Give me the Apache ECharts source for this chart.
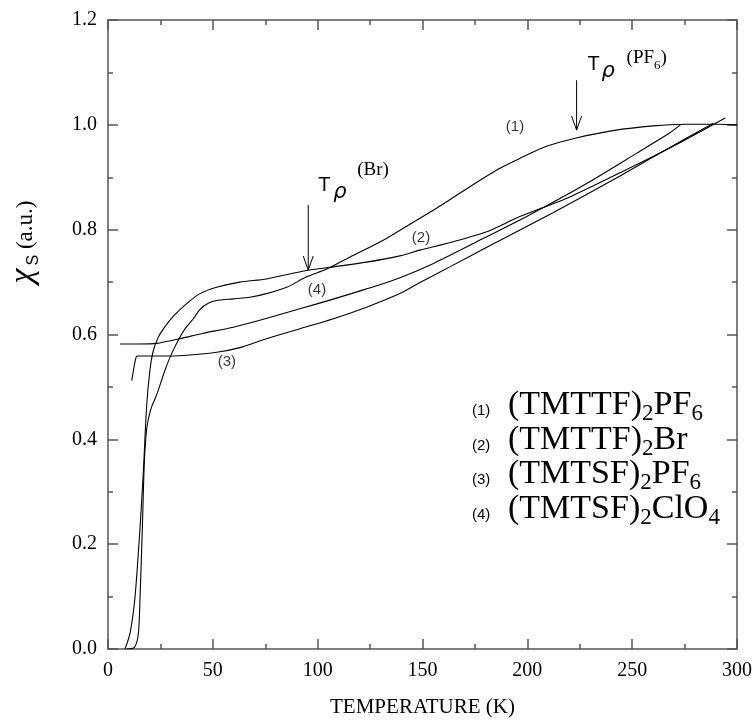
<!DOCTYPE html>
<html><head><meta charset="utf-8">
<script src="https://cdn.jsdelivr.net/npm/echarts@6/dist/echarts.min.js"></script>
<style>html,body{margin:0;padding:0;background:#fff}#c{width:755px;height:721px}</style>
</head><body><div id="c"></div>
<script>
// ---------- data ----------
const xTicks = [0, 50, 100, 150, 200, 250, 300];
const yTicks = [0, 0.2, 0.4, 0.6, 0.8, 1.0, 1.2];

// (1) (TMTTF)2PF6
const t1 = [8.9, 12.6, 14.5, 15.3, 16.4, 17.3, 18.4, 19.6, 20.8, 22.5, 24, 27, 30.4, 35, 37.5, 40.7, 43.9, 48, 51.8, 59.8, 67.7, 75.6, 85.2, 94.7, 104.3, 115.5, 131.3, 147.2, 156.7, 163, 172.6, 186.9, 196.4, 209.1, 223.4, 240.9, 260, 275.7, 291.6, 300];
const v1 = [0, 0.003, 0.03, 0.10, 0.233, 0.354, 0.418, 0.445, 0.462, 0.478, 0.494, 0.53, 0.564, 0.600, 0.615, 0.630, 0.648, 0.660, 0.665, 0.668, 0.671, 0.678, 0.690, 0.710, 0.725, 0.748, 0.780, 0.818, 0.841, 0.857, 0.882, 0.917, 0.936, 0.959, 0.975, 0.989, 0.998, 1.001, 1.001, 1.0];
// (2) (TMTTF)2Br
const t2 = [8.1, 10.5, 12.9, 15.3, 16.9, 18.4, 20, 21.6, 24, 27, 31.2, 37.5, 43.9, 51.8, 62.9, 75.6, 94.7, 107.5, 123.3, 139.2, 148.8, 164.7, 180.6, 196.4, 220, 245, 270, 294.4];
const v2 = [0, 0.03, 0.10, 0.233, 0.341, 0.462, 0.532, 0.569, 0.595, 0.614, 0.635, 0.659, 0.678, 0.690, 0.700, 0.706, 0.722, 0.729, 0.738, 0.750, 0.761, 0.777, 0.796, 0.825, 0.862, 0.910, 0.960, 1.013];
// (3) (TMTSF)2PF6
const t3 = [11.3, 13.4, 14.5, 25, 35.9, 51.8, 62.9, 75.6, 91.5, 107.5, 123.3, 139.2, 148.8, 163, 180, 212, 244, 276, 288.7];
const v3 = [0.512, 0.557, 0.559, 0.559, 0.560, 0.566, 0.575, 0.592, 0.611, 0.630, 0.652, 0.678, 0.699, 0.729, 0.765, 0.832, 0.902, 0.975, 1.003];
// (4) (TMTSF)2ClO4
const t4 = [5.7, 15, 23.2, 34.3, 45, 59.8, 75, 91.5, 107, 123.3, 139, 155, 175, 201, 228.3, 252.2, 268, 273];
const v4 = [0.582, 0.582, 0.583, 0.592, 0.602, 0.614, 0.630, 0.649, 0.667, 0.687, 0.708, 0.735, 0.775, 0.828, 0.888, 0.946, 0.985, 1.0];

const curveLabels = ['(1)', '(2)', '(3)', '(4)'];
const curveLabelT = [194.1, 149.3, 56.7, 99.7];
const curveLabelV = [0.997, 0.784, 0.547, 0.685];

const arrowT = [95.5, 223.5];
const arrowFrom = [0.847, 1.085];
const arrowTo = [0.723, 0.990];
const annoT = 'T';
const annoRho = 'ρ';
const annoSup = [['(Br)'], ['(PF', '6', ')']];

const legendNums = ['(1)', '(2)', '(3)', '(4)'];
const legendFormulas = [
  [['(TMTTF)', 'm'], ['2', 's'], ['PF', 'm'], ['6', 's']],
  [['(TMTTF)', 'm'], ['2', 's'], ['Br', 'm']],
  [['(TMTSF)', 'm'], ['2', 's'], ['PF', 'm'], ['6', 's']],
  [['(TMTSF)', 'm'], ['2', 's'], ['ClO', 'm'], ['4', 's']]
];
const xName = 'TEMPERATURE (K)';
const yNameParts = ['χ', 'S', ' (a.u.)'];

// ---------- chart ----------
const chart = echarts.init(document.getElementById('c'), null, {renderer: 'canvas'});
const AX = '#555';
const SERIF = '"Liberation Serif", "Times New Roman", serif';
const SANS = '"Liberation Sans", Arial, sans-serif';

function axisCommon(showLabel) {
  return {
    type: 'value',
    axisLine: {show: true, onZero: false, lineStyle: {color: AX, width: 1.5}},
    axisTick: {show: true, inside: true, length: 10, lineStyle: {color: AX, width: 1.5}},
    minorTick: {show: true, splitNumber: 2, length: 5, lineStyle: {color: AX, width: 1.5}},
    splitLine: {show: false},
    minorSplitLine: {show: false},
    axisLabel: {show: showLabel, fontFamily: SERIF, fontSize: 20, color: '#000'}
  };
}
const xMain = Object.assign(axisCommon(true), {
  min: 0, max: 300, interval: 50, position: 'bottom',
  name: xName, nameLocation: 'middle', nameGap: 48,
  nameTextStyle: {fontFamily: SERIF, fontSize: 21, color: '#000'}
});
xMain.axisLabel.margin = 12;
xMain.axisLabel.formatter = v => (xTicks.indexOf(v) >= 0 ? String(v) : '');
const xTop = Object.assign(axisCommon(false), {min: 0, max: 300, interval: 50, position: 'top'});
const yMain = Object.assign(axisCommon(true), {min: 0, max: 1.2, interval: 0.2, position: 'left'});
yMain.axisLabel.margin = 11;
yMain.axisLabel.formatter = v => {
  const k = yTicks.findIndex(t => Math.abs(t - v) < 1e-9);
  return k >= 0 ? yTicks[k].toFixed(1) : '';
};
const yRight = Object.assign(axisCommon(false), {min: 0, max: 1.2, interval: 0.2, position: 'right'});

function lineSeries(ts, vs) {
  return {
    type: 'line', xAxisIndex: 0, yAxisIndex: 0,
    data: ts.map((t, i) => [t, vs[i]]),
    showSymbol: false, symbol: 'none', smooth: 0.25,
    lineStyle: {color: '#000', width: 1.1}, silent: true, z: 3
  };
}

const option = {
  animation: false,
  backgroundColor: '#fff',
  grid: {left: 108, right: 18, top: 20, bottom: 72, containLabel: false, outerBoundsMode: 'none'},
  xAxis: [xMain, xTop],
  yAxis: [yMain, yRight],
  series: [
    lineSeries(t1, v1), lineSeries(t2, v2), lineSeries(t3, v3), lineSeries(t4, v4),
    {
      type: 'custom', xAxisIndex: 0, yAxisIndex: 0, silent: true, clip: false,
      data: arrowT.map((t, i) => [t, arrowFrom[i], arrowTo[i]]),
      encode: {x: 0, y: [1, 2]},
      renderItem: (params, api) => {
        const p0 = api.coord([api.value(0), api.value(1)]);
        const p1 = api.coord([api.value(0), api.value(2)]);
        return {
          type: 'group', children: [
            {type: 'line', shape: {x1: p0[0], y1: p0[1], x2: p1[0], y2: p1[1]}, style: {stroke: '#000', lineWidth: 1}},
            {type: 'polyline', shape: {points: [[p1[0] - 5, p1[1] - 14], [p1[0], p1[1]], [p1[0] + 5, p1[1] - 14]]}, style: {stroke: '#000', lineWidth: 1, fill: null}}
          ]
        };
      }
    },
    {
      type: 'scatter', xAxisIndex: 0, yAxisIndex: 0, silent: true,
      symbolSize: 1, itemStyle: {color: 'rgba(0,0,0,0)'},
      data: curveLabels.map((n, i) => ({name: n, value: [curveLabelT[i], curveLabelV[i]]})),
      label: {show: true, position: 'inside', formatter: '{b}', fontFamily: SANS, fontSize: 15, color: '#000'}
    }
  ]
};
chart.setOption(option);

// ---------- multi-font texts ----------
const mctx = document.createElement('canvas').getContext('2d');
function fontStr(p) { return (p.italic ? 'italic ' : '') + p.size + 'px ' + p.family; }
function measure(p) { mctx.font = fontStr(p); return mctx.measureText(p.text).width; }
function textEl(p, x, baseline) {
  return {
    type: 'text', x: x, y: baseline - 0.33 * p.size, silent: true,
    style: {text: p.text, font: fontStr(p), fill: '#000', align: 'left', verticalAlign: 'middle'}
  };
}
function runPieces(pieces, x0, baseline) {
  const els = [];
  let x = x0;
  pieces.forEach(p => { els.push(textEl(p, x, baseline + (p.dy || 0))); x += measure(p) + (p.gap || 0); });
  return {els, width: x - x0};
}

const graphics = [];
// legend
const LEG_X_NUM = 472, LEG_X_F = 508;
const legBase = [416, 451, 485, 520];
legendFormulas.forEach((f, i) => {
  graphics.push(textEl({text: legendNums[i], size: 15, family: SANS}, LEG_X_NUM, legBase[i]));
  const pieces = f.map(([txt, kind]) => kind === 'm'
    ? {text: txt, size: 34, family: SERIF}
    : {text: txt, size: 23, family: SERIF, dy: 6});
  runPieces(pieces, LEG_X_F, legBase[i]).els.forEach(e => graphics.push(e));
});

// arrow annotations
const annoOffsets = [
  {t: [10, -13], r: [25, -6], s: [49, -29]},
  {t: [11, -9], r: [25, -2], s: [50, -16]}
];
arrowT.forEach((t, i) => {
  const a = chart.convertToPixel({xAxisIndex: 0, yAxisIndex: 0}, [t, arrowFrom[i]]);
  const o = annoOffsets[i];
  graphics.push(textEl({text: annoT, size: 20, family: SANS}, a[0] + o.t[0], a[1] + o.t[1]));
  graphics.push(textEl({text: annoRho, size: 21, family: '"DejaVu Sans", sans-serif', italic: true}, a[0] + o.r[0], a[1] + o.r[1]));
  const sp = annoSup[i].map((s, k) => (annoSup[i].length === 3 && k === 1)
    ? {text: s, size: 13, family: SERIF, dy: 6}
    : {text: s, size: 19, family: SERIF});
  runPieces(sp, a[0] + o.s[0], a[1] + o.s[1]).els.forEach(e => graphics.push(e));
});

// rotated y-axis name
const yPieces = [
  {text: yNameParts[0], size: 34, family: SERIF, italic: true, gap: 3},
  {text: yNameParts[1], size: 16, family: SANS, dy: 5},
  {text: yNameParts[2], size: 23, family: SERIF}
];
let totalW = 0; yPieces.forEach(p => { totalW += measure(p) + (p.gap || 0); });
const yRun = runPieces(yPieces, -totalW / 2, 0);
graphics.push({type: 'group', x: 34, y: 242, rotation: Math.PI / 2, children: yRun.els});

chart.setOption({graphic: graphics});
</script>
</body></html>
